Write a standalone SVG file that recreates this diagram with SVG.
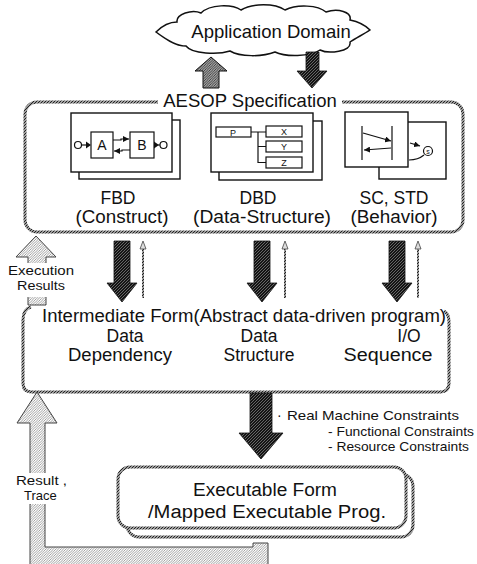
<svg xmlns="http://www.w3.org/2000/svg" width="477" height="564" viewBox="0 0 477 564">
  <defs>
    <style>
      text { font-family: "Liberation Sans", Arial, sans-serif; fill: #111; }
      .big { font-size: 17.5px; }
      .exe { font-size: 18px; }
      .small { font-size: 13px; }
      .tiny { font-size: 9px; }
      .mid { text-anchor: middle; }
      .frame { fill: none; stroke: url(#edge); stroke-width: 3; }
      .panel { fill: #fff; stroke: #111; stroke-width: 1.4; }
      .ink { fill: none; stroke: #111; stroke-width: 1.2; }
      .inkbox { fill: #fff; stroke: #111; stroke-width: 1.2; }
      .heavy { fill: url(#dark); stroke: #111; stroke-width: 0.8; }
      .pale { fill: url(#light); stroke: #444; stroke-width: 1; }
      .thin { stroke: url(#edge); stroke-width: 2; fill: none; }
      .thinhead { fill: #ddd; stroke: #444; stroke-width: 0.8; }
    </style>
    <pattern id="edge" width="3" height="3" patternUnits="userSpaceOnUse">
      <rect width="3" height="3" fill="#fff"/>
      <path d="M-1,1 L1,-1 M0,3 L3,0 M2,4 L4,2" stroke="#222" stroke-width="1.3"/>
    </pattern>
    <pattern id="dark" width="3" height="3" patternUnits="userSpaceOnUse">
      <rect width="3" height="3" fill="#141414"/>
      <path d="M-1,1 L1,-1 M0,3 L3,0 M2,4 L4,2" stroke="#8a8a8a" stroke-width="0.7"/>
    </pattern>
    <pattern id="medium" width="2.5" height="2.5" patternUnits="userSpaceOnUse">
      <rect width="2.5" height="2.5" fill="#fff"/>
      <path d="M-1,1 L1,-1 M0,2.5 L2.5,0 M1.5,3.5 L3.5,1.5" stroke="#333" stroke-width="1.1"/>
    </pattern>
    <pattern id="light" width="2.5" height="2.5" patternUnits="userSpaceOnUse">
      <rect width="2.5" height="2.5" fill="#fff"/>
      <path d="M-1,1 L1,-1 M0,2.5 L2.5,0 M1.5,3.5 L3.5,1.5" stroke="#888" stroke-width="0.8"/>
    </pattern>
    <marker id="tip" viewBox="0 0 6 6" refX="6" refY="3" markerWidth="5" markerHeight="5" orient="auto">
      <path d="M0,0 L6,3 L0,6 z" fill="#111"/>
    </marker>
  </defs>

  <rect width="477" height="564" fill="#fff"/>

  <!-- cloud: Application Domain -->
  <g id="application-domain">
    <path d="M156,32 C162,26 170,22 177,22 C176,14 192,9 201,13 C210,4 232,4 241,10 C252,3 275,3 285,10 C297,4 318,5 326,12 C338,8 352,12 350,20 C360,22 366,26 370,30 C364,34 356,38 350,42 C352,52 328,54 320,50 C310,57 285,57 275,52 C262,57 240,57 230,51 C218,55 192,54 186,46 C175,46 164,38 156,32 Z" fill="#fff" stroke="#111" stroke-width="1.5"/>
    <text class="mid" x="271" y="38" style="font-size:18.5px">Application Domain</text>
  </g>

  <!-- AESOP specification -->
  <g id="aesop-specification">
    <rect class="frame" x="25" y="102" width="438" height="130" rx="12"/>
    <rect x="158" y="92" width="184" height="18" fill="#fff"/>
    <text class="mid" x="250" y="107" style="font-size:18.5px">AESOP Specification</text>

    <g id="fbd">
      <rect class="panel" x="79" y="120" width="101" height="59"/>
      <rect class="panel" x="71" y="113" width="101" height="59"/>
      <circle cx="78" cy="145" r="3.5" class="inkbox"/>
      <path class="ink" d="M81.5,145 H86"/>
      <path d="M86,141.5 L91,145 L86,148.5 z" fill="#111"/>
      <rect class="inkbox" x="91" y="132" width="22" height="26"/>
      <text class="mid" x="102" y="150" style="font-size:14px">A</text>
      <rect class="inkbox" x="130" y="132" width="24" height="26"/>
      <text class="mid" x="142" y="150" style="font-size:14px">B</text>
      <path class="ink" d="M113,140 H121 V139 H129" marker-end="url(#tip)"/>
      <path class="ink" d="M130,150 H122 V151 H114" marker-end="url(#tip)"/>
      <path d="M154,141.5 L159,145 L154,148.5 z" fill="#111"/>
      <path class="ink" d="M158,145 H160"/>
      <circle cx="163.5" cy="145" r="3.5" class="inkbox"/>
      <text class="big mid" x="118" y="204">FBD</text>
      <text class="big mid" x="122" y="223" textLength="93" lengthAdjust="spacingAndGlyphs">(Construct)</text>
    </g>

    <g id="dbd">
      <rect class="panel" x="219" y="121" width="103" height="59"/>
      <rect class="panel" x="211" y="113" width="102" height="59"/>
      <rect class="inkbox" x="216" y="127" width="35" height="10"/>
      <text class="tiny mid" x="233" y="135.5">P</text>
      <rect class="inkbox" x="266" y="126" width="36" height="11"/>
      <text class="tiny mid" x="284" y="135">X</text>
      <rect class="inkbox" x="266" y="141" width="36" height="11"/>
      <text class="tiny mid" x="284" y="150">Y</text>
      <rect class="inkbox" x="266" y="157" width="36" height="11"/>
      <text class="tiny mid" x="284" y="166">Z</text>
      <path class="ink" d="M251,132 H266 M258,132 V162.5 H266 M258,146.5 H266"/>
      <text class="big mid" x="258" y="204">DBD</text>
      <text class="big mid" x="262" y="223" textLength="138" lengthAdjust="spacingAndGlyphs">(Data-Structure)</text>
    </g>

    <g id="sc-std">
      <rect class="panel" x="379" y="122" width="67" height="57"/>
      <rect class="panel" x="345" y="112" width="63" height="55"/>
      <path class="ink" d="M362,126 V160 M392,126 V160" stroke-width="1.5"/>
      <path class="ink" d="M363,133 L391,141" marker-end="url(#tip)"/>
      <path class="ink" d="M391,148 L364,150" marker-end="url(#tip)"/>
      <path class="ink" d="M410,143 L420,146" marker-end="url(#tip)"/>
      <circle cx="428" cy="151" r="4.5" class="inkbox"/>
      <text class="mid" x="428" y="153.5" style="font-size:7px">s</text>
      <path class="ink" d="M424,155 Q418,160 409,160"/>
      <text class="big mid" x="394" y="204">SC, STD</text>
      <text class="big mid" x="394" y="223" textLength="87" lengthAdjust="spacingAndGlyphs">(Behavior)</text>
    </g>
  </g>

  <!-- intermediate form -->
  <g id="intermediate-form">
    <path class="frame" d="M31,307 Q23,309 23,320 V383 Q23,392 32,392 H440 Q449,392 449,383 V322 Q449,314 444,311"/>
    <text class="big mid" x="244" y="322" textLength="404" lengthAdjust="spacingAndGlyphs">Intermediate Form(Abstract data-driven program)</text>
    <text class="big mid" x="125" y="342">Data</text>
    <text class="big mid" x="120" y="361" textLength="104" lengthAdjust="spacingAndGlyphs">Dependency</text>
    <text class="big mid" x="259" y="342">Data</text>
    <text class="big mid" x="259" y="361">Structure</text>
    <text class="big mid" x="409" y="342">I/O</text>
    <text class="big mid" x="388" y="361" textLength="89" lengthAdjust="spacingAndGlyphs">Sequence</text>
  </g>

  <!-- executable form -->
  <g id="executable-form">
    <rect x="127" y="474" width="286" height="63" rx="12" fill="#fff" stroke="url(#edge)" stroke-width="3"/>
    <rect x="118" y="467" width="288" height="61" rx="12" fill="#fff" stroke="url(#edge)" stroke-width="3"/>
    <text class="exe mid" x="265" y="496" textLength="144" lengthAdjust="spacingAndGlyphs">Executable Form</text>
    <text class="exe mid" x="267" y="518" textLength="238" lengthAdjust="spacingAndGlyphs">/Mapped Executable Prog.</text>
  </g>

  <!-- connectors -->
  <g id="connectors">
    <!-- to / from the application domain -->
    <path d="M211,57 L227,71 L219,71 L219,88 L203,88 L203,71 L195,71 Z" fill="url(#medium)" stroke="#111" stroke-width="1"/>
    <path class="heavy" d="M306,52 H319 V71 H327 L312,88 L297,71 H306 Z"/>

    <!-- specification to intermediate form, with feedback -->
    <path class="heavy" d="M114,241 H130 V283 H137 L122,302 L107,283 H114 Z"/>
    <path class="heavy" d="M254,241 H270 V283 H277 L262,302 L247,283 H254 Z"/>
    <path class="heavy" d="M389,241 H405 V283 H412 L397,302 L382,283 H389 Z"/>
    <path class="thin" d="M143,298 V246"/>
    <path class="thinhead" d="M140,249 L143,241 L146,249 Z"/>
    <path class="thin" d="M285,298 V246"/>
    <path class="thinhead" d="M282,249 L285,241 L288,249 Z"/>
    <path class="thin" d="M418,298 V246"/>
    <path class="thinhead" d="M415,249 L418,241 L421,249 Z"/>

    <!-- execution results -->
    <path class="pale" d="M36,236 L56,257 L46,257 L46,305 L28,305 L28,257 L16,257 Z"/>
    <rect x="5" y="263" width="73" height="34" fill="#fff"/>
    <text class="small mid" x="41" y="275" textLength="66" lengthAdjust="spacingAndGlyphs">Execution</text>
    <text class="small mid" x="41" y="290" textLength="48" lengthAdjust="spacingAndGlyphs">Results</text>

    <!-- intermediate form to executable form -->
    <path class="heavy" d="M250,393 H272 V433 H283 L261,459 L239,433 H250 Z"/>
    <text x="277" y="420" style="font-size:14px">·</text>
    <text class="small" x="287" y="420" textLength="172" lengthAdjust="spacingAndGlyphs">Real Machine Constraints</text>
    <text class="small" x="328" y="436" textLength="146" lengthAdjust="spacingAndGlyphs">- Functional Constraints</text>
    <text class="small" x="328" y="451" textLength="141" lengthAdjust="spacingAndGlyphs">- Resource Constraints</text>

    <!-- result / trace feedback -->
    <path class="pale" d="M37,392 L57,423 L45,423 L45,547 L253,547 L253,543 L268,543 L268,568 L30,568 L30,423 L17,423 Z"/>
    <rect x="13" y="473" width="58" height="31" fill="#fff"/>
    <text class="small" x="16" y="485" textLength="51" lengthAdjust="spacingAndGlyphs">Result ,</text>
    <text class="small" x="24" y="500">Trace</text>
  </g>
</svg>
